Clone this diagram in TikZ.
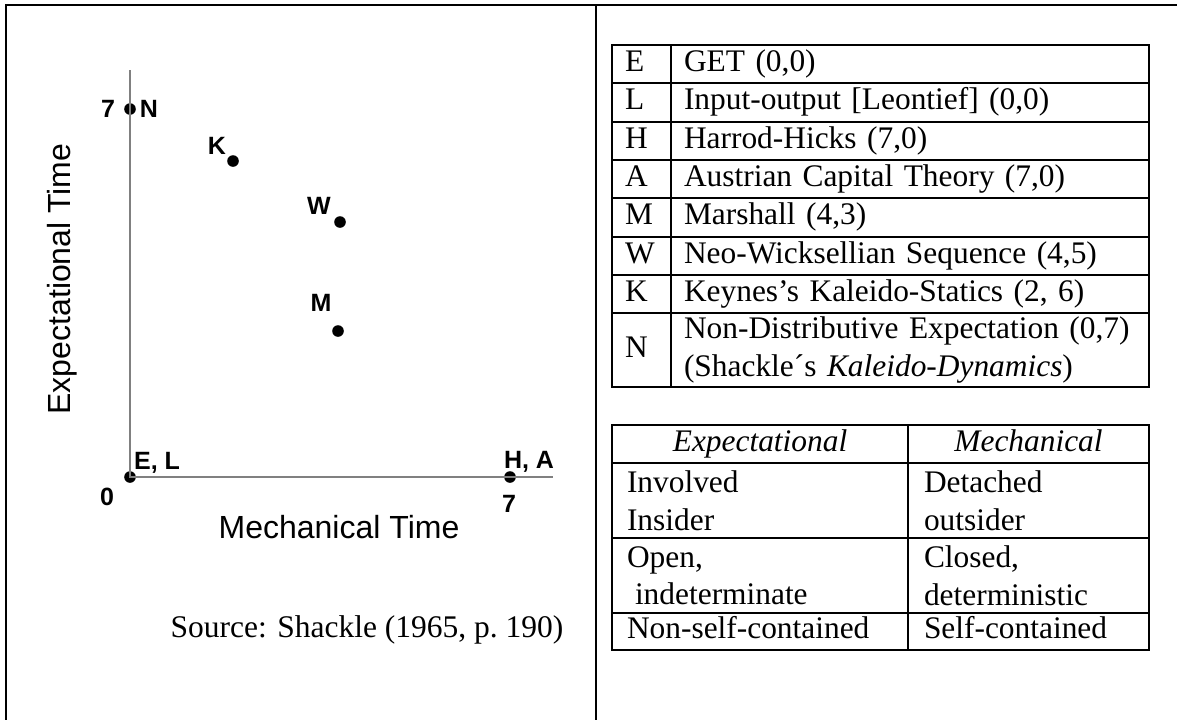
\documentclass[tikz,border=0pt]{standalone}
\usepackage{fontspec}
\setmainfont{Liberation Serif}
\setsansfont{Liberation Sans}
\usetikzlibrary{positioning,calc}
\tikzset{
  frameline/.style={line width=1pt, black},
  axisline/.style={line width=0.65pt, black!50},
  dot/.style={circle, fill=black, inner sep=0pt, minimum size=5.8pt},
  ptlab/.style={inner sep=0pt, font=\sffamily\bfseries\fontsize{12.5}{15}\selectfont},
  axlab/.style={inner sep=0pt, font=\sffamily\fontsize{16}{19}\selectfont},
  srclab/.style={inner sep=0pt, font=\fontsize{15.75}{19}\selectfont},
  cell/.style={rectangle, draw, line width=1pt, anchor=north west,
    align=left, inner ysep=0pt, font=\fontsize{15.7}{18.75}\selectfont},
  oneline/.style={text height=11pt, text depth=3.6pt},
  keycell/.style={cell, oneline, text width=16.5pt, inner xsep=6.5pt},
  desccell/.style={cell, text width=226pt, inner xsep=6.5pt},
  expcell/.style={cell, text width=133pt, inner xsep=7.5pt},
  meccell/.style={cell, text width=104.5pt, inner xsep=8pt},
}

\begin{document}
\begin{tikzpicture}[x=0.5pt, y=-0.5pt]
% Pixelraster der Vorlage: x nach rechts, y nach unten
\useasboundingbox (0,0) rectangle (1177,720);

\def\ytop{44}     % Oberkante Legende
\def\rowh{38.3}   % Zeilenhoehe
\def\xkey{611}
\def\xdesc{670}

% ── Rahmen ─────────────────────────────────────────────────────────────────
\draw[frameline] (1177,5) -- (5.5,5) -- (5.5,720);
\draw[frameline] (596,5) -- (596,720);

% ── Achsen und Punkte ──────────────────────────────────────────────────────
\foreach \nm/\x/\y in {N/130/109, K/233/161, W/340/222, M/338/331,
                       O/130/477, HA/510/477}{
  \node[dot] (p\nm) at (\x,\y) {};
}
\coordinate (ytop) at (130,70);
\coordinate (xend) at (553,477);
\draw[axisline] (ytop) -- (pO.center) -- (xend);
\foreach \nm/\x/\y/\txt in {yN/108/109/7, N/149/109/N, K/217/146/K,
    W/319/206/W, M/321/303/M, EL/157/463/{E, L}, HA/529/462/{H, A},
    x0/107/497/0, x7/509/504/7}{
  \node[ptlab] (l\nm) at (\x,\y) {\txt};
}

\node[axlab, rotate=90] (ylab) at (62,279) {Expectational Time};
\node[axlab] (xlab) at (339,527) {Mechanical Time};
\node[srclab] (src) at (367,630) {Source: Shackle (1965, p.~190)};

% ── Legende ────────────────────────────────────────────────────────────────
\foreach \k/\d [count=\i from 0] in {E/{GET (0,0)},
    L/{Input-output [Leontief] (0,0)}, H/{Harrod-Hicks (7,0)},
    A/{Austrian Capital Theory (7,0)}, M/{Marshall (4,3)},
    W/{Neo-Wicksellian Sequence (4,5)}, K/{Keynes’s Kaleido-Statics (2, 6)}}{
  \node[keycell, minimum height=19.15pt] (k\k) at (\xkey, {\ytop+\rowh*\i}) {\k};
  \node[desccell, oneline, minimum height=19.15pt] (d\k)
    at (\xdesc, {\ytop+\rowh*\i}) {\d};
}
\node[keycell, minimum height=37.05pt] (kN) at (\xkey, {\ytop+\rowh*7}) {N};
\node[desccell, minimum height=37.05pt] (dN) at (\xdesc, {\ytop+\rowh*7})
  {Non-Distributive Expectation (0,7)\\(Shackle´s \textit{Kaleido-Dynamics})};

% ── Gegenueberstellung ─────────────────────────────────────────────────────
\node[expcell, oneline, align=center, minimum height=19pt] (hE) at (611,424)
  {\textit{Expectational}};
\node[meccell, oneline, align=center, minimum height=19pt] (hM) at (907,424)
  {\textit{Mechanical}};
\node[expcell, minimum height=37.5pt] (e1) at (611,462) {Involved\\Insider};
\node[meccell, minimum height=37.5pt] (m1) at (907,462) {Detached\\outsider};
\node[expcell, minimum height=37.5pt] (e2) at (611,537)
  {Open,\\\hspace*{4pt}indeterminate};
\node[meccell, minimum height=37.5pt] (m2) at (907,537) {Closed,\\deterministic};
\node[expcell, oneline, minimum height=18.5pt] (e3) at (611,612)
  {Non-self-contained};
\node[meccell, oneline, minimum height=18.5pt] (m3) at (907,612) {Self-contained};

\end{tikzpicture}
\end{document}
